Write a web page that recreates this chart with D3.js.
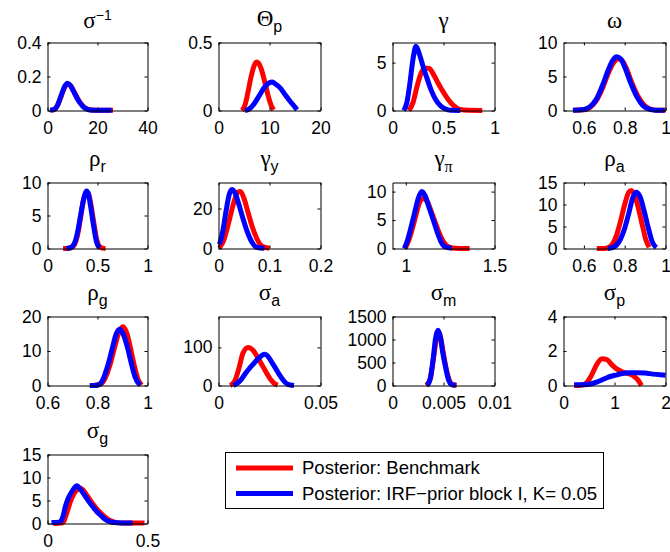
<!DOCTYPE html>
<html>
<head>
<meta charset="utf-8">
<script src="https://cdn.jsdelivr.net/npm/d3@7"></script>
<style>
body { margin: 0; background: #fff; }
svg { display: block; }
</style>
</head>
<body>
<script>
// panel titles (symbol, subscript, superscript)
var titleSym = ["σ", "Θ", "γ", "ω", "ρ", "γ", "γ", "ρ", "ρ", "σ", "σ", "σ", "σ"];
var titleSub = ["", "p", "", "", "r", "y", "π", "a", "g", "a", "m", "p", "g"];
var titleSup = ["−1", "", "", "", "", "", "", "", "", "", "", "", ""];

// axis limits and ticks
var xDomains = [[0, 40], [0, 20], [0, 1], [0.5, 1], [0, 1], [0, 0.2], [0.925, 1.5], [0.5, 1], [0.6, 1], [0, 0.05], [0, 0.01], [0, 2], [0, 0.5]];
var yDomains = [[0, 0.4], [0, 0.5], [0, 7.1], [0, 10], [0, 10], [0, 33], [0, 11.6], [0, 15], [0, 20], [0, 181], [0, 1500], [0, 4], [0, 15]];
var xTicks = [[0, 20, 40], [0, 10, 20], [0, 0.5, 1], [0.6, 0.8, 1], [0, 0.5, 1], [0, 0.1, 0.2], [1, 1.5], [0.6, 0.8, 1], [0.6, 0.8, 1], [0, 0.05], [0, 0.005, 0.01], [0, 1, 2], [0, 0.5]];
var yTicks = [[0, 0.2, 0.4], [0, 0.5], [0, 5], [0, 5, 10], [0, 5, 10], [0, 20], [0, 5, 10], [0, 5, 10, 15], [0, 10, 20], [0, 100], [0, 500, 1000, 1500], [0, 2, 4], [0, 5, 10, 15]];

// posterior densities: [x, density]
var sigmaInvRed = [[1.6,0.001],[3,0.008],[4,0.03],[5,0.065],[6,0.105],[7,0.14],[8,0.155],[9,0.15],[10,0.128],[11,0.1],[12,0.072],[13,0.048],[14,0.03],[15,0.016],[16,0.008],[18,0.003],[21,0.001],[26.2,0.001]];
var sigmaInvBlue = [[1,0.002],[2.5,0.006],[4,0.03],[5,0.07],[6,0.11],[7,0.145],[8,0.16],[9,0.15],[10,0.125],[11,0.095],[12,0.068],[13,0.045],[14,0.027],[15,0.014],[16,0.007],[18,0.002],[21,0.001],[25.6,0.001]];
var thetaPRed = [[4.6,0],[5.2,0.04],[5.8,0.14],[6.4,0.25],[7,0.33],[7.5,0.357],[8,0.34],[8.6,0.28],[9.2,0.19],[9.8,0.1],[10.3,0.04],[10.8,0.005]];
var thetaPBlue = [[5.2,0],[6,0.01],[7,0.05],[8,0.11],[9,0.17],[10,0.205],[10.5,0.209],[11,0.2],[12,0.17],[13,0.12],[14,0.07],[15,0.025],[15.4,0.005]];
var gammaRed = [[0.16,0],[0.2,0.8],[0.24,2.5],[0.28,3.9],[0.32,4.45],[0.36,4.4],[0.4,3.8],[0.45,2.8],[0.5,1.9],[0.55,1.1],[0.6,0.5],[0.66,0.1],[0.75,0.02],[0.88,0.01]];
var gammaBlue = [[0.11,0],[0.14,0.8],[0.17,2.8],[0.2,5.3],[0.23,6.7],[0.26,6.0],[0.3,4.6],[0.34,3.3],[0.38,2.1],[0.42,1.2],[0.47,0.5],[0.52,0.15],[0.57,0.03],[0.664,0.01]];
var omegaRed = [[0.55,0.05],[0.6,0.1],[0.63,0.45],[0.66,1.4],[0.69,3.2],[0.72,5.5],[0.745,7.0],[0.765,7.6],[0.785,7.4],[0.805,6.4],[0.835,4.1],[0.865,2.1],[0.895,0.8],[0.925,0.2],[0.96,0.05],[1.0,0.05]];
var omegaBlue = [[0.546,0.05],[0.6,0.15],[0.63,0.57],[0.66,1.6],[0.69,3.6],[0.72,6.0],[0.74,7.3],[0.76,7.9],[0.78,7.6],[0.8,6.4],[0.83,4.0],[0.86,2.0],[0.89,0.7],[0.92,0.2],[0.95,0.05],[0.995,0.05]];
var rhoRRed = [[0.156,0],[0.22,0.05],[0.27,0.6],[0.3,2.0],[0.33,4.6],[0.36,7.4],[0.39,8.5],[0.41,8.3],[0.43,7.0],[0.46,4.2],[0.49,1.5],[0.52,0.3],[0.55,0.05],[0.58,0]];
var rhoRBlue = [[0.19,0],[0.24,0.2],[0.28,1.2],[0.31,3.2],[0.34,5.8],[0.37,8.0],[0.39,8.7],[0.41,8.2],[0.43,6.5],[0.46,3.5],[0.49,1.0],[0.52,0.05]];
var gammaYRed = [[0.002,0.3],[0.01,4],[0.02,13],[0.03,23],[0.038,28.2],[0.043,28.5],[0.05,25],[0.058,18],[0.066,11],[0.075,5],[0.085,1.2],[0.1,0.1]];
var gammaYBlue = [[0.002,2],[0.008,8],[0.015,19],[0.021,27],[0.026,29.5],[0.032,28],[0.04,22],[0.048,15],[0.057,8],[0.066,3],[0.075,0.6],[0.09,0.1]];
var gammaPiRed = [[0.995,0],[1.015,1.3],[1.035,3.3],[1.055,5.6],[1.075,7.9],[1.098,8.8],[1.12,8.3],[1.14,6.8],[1.165,4.7],[1.19,2.6],[1.21,1.3],[1.23,0.5],[1.26,0.1],[1.3,0.02],[1.36,0.01]];
var gammaPiBlue = [[0.992,0],[1.01,1.5],[1.03,3.8],[1.05,6.3],[1.07,8.8],[1.09,10.0],[1.11,9.2],[1.13,7.3],[1.155,5.0],[1.18,2.6],[1.2,1.1],[1.22,0.3],[1.26,0.05]];
var rhoARed = [[0.663,0],[0.7,0],[0.72,0.2],[0.74,1.0],[0.76,3.0],[0.78,6.3],[0.8,10.0],[0.82,12.8],[0.832,13.2],[0.85,12.0],[0.87,8.6],[0.89,4.6],[0.905,1.8],[0.92,0.3]];
var rhoABlue = [[0.717,0],[0.74,0.2],[0.76,0.8],[0.78,2.2],[0.8,4.6],[0.82,8.0],[0.84,11.6],[0.856,12.8],[0.875,11.8],[0.895,8.6],[0.915,4.8],[0.935,1.5],[0.955,0.2]];
var rhoGRed = [[0.78,0],[0.81,0.3],[0.83,2.0],[0.85,6.0],[0.87,11.5],[0.888,15.8],[0.902,17.0],[0.918,15],[0.933,10.5],[0.948,5.5],[0.962,1.8],[0.976,0.1]];
var rhoGBlue = [[0.769,0],[0.8,0.1],[0.82,1.5],[0.84,5.5],[0.86,11],[0.875,15],[0.889,16.3],[0.905,14.5],[0.92,11],[0.935,6.5],[0.95,2.5],[0.97,0.1]];
var sigmaARed = [[0.0057,0],[0.008,12],[0.01,45],[0.012,85],[0.0145,100],[0.017,92],[0.019,75],[0.021,57],[0.023,38],[0.025,20],[0.027,7],[0.029,1]];
var sigmaABlue = [[0.0073,0],[0.009,5],[0.011,15],[0.013,30],[0.015,44],[0.017,56],[0.019,68],[0.0213,79],[0.0226,82],[0.024,78],[0.026,62],[0.028,45],[0.03,27],[0.032,12],[0.034,3],[0.037,0]];
var sigmaMRed = [[0.0033,0],[0.0037,140],[0.004,560],[0.0043,1000],[0.0045,1150],[0.0047,1050],[0.005,680],[0.0053,330],[0.0056,100],[0.0059,20],[0.0063,5]];
var sigmaMBlue = [[0.0034,0],[0.0037,150],[0.004,600],[0.0042,1000],[0.00446,1200],[0.0047,1050],[0.0049,750],[0.0052,400],[0.0055,120],[0.0058,20],[0.0062,5]];
var sigmaPRed = [[0.21,0],[0.35,0.02],[0.45,0.15],[0.55,0.6],[0.65,1.2],[0.75,1.55],[0.85,1.5],[0.95,1.2],[1.05,0.95],[1.15,0.8],[1.25,0.7],[1.35,0.6],[1.45,0.35],[1.53,0]];
var sigmaPBlue = [[0.21,0.05],[0.4,0.05],[0.55,0.1],[0.65,0.2],[0.75,0.32],[0.85,0.45],[0.95,0.55],[1.05,0.62],[1.15,0.7],[1.3,0.74],[1.45,0.74],[1.6,0.72],[1.75,0.66],[1.9,0.62],[2.0,0.6]];
var sigmaGRed = [[0.03,0],[0.07,0.1],[0.085,0.8],[0.1,2.8],[0.115,4.8],[0.13,6.3],[0.145,7.2],[0.16,7.7],[0.175,7.4],[0.19,6.6],[0.21,5.3],[0.23,4.1],[0.25,3.0],[0.27,2.1],[0.29,1.3],[0.31,0.7],[0.34,0.25],[0.38,0.1],[0.43,0.1],[0.485,0.1]];
var sigmaGBlue = [[0.02,0.2],[0.06,0.3],[0.075,1.2],[0.09,3.8],[0.105,5.6],[0.12,6.8],[0.135,7.8],[0.147,8.2],[0.16,7.7],[0.18,6.5],[0.2,5.2],[0.22,4.0],[0.24,2.9],[0.26,2.0],[0.28,1.2],[0.3,0.6],[0.33,0.2],[0.37,0.1],[0.425,0.1]];

var redSeries = [sigmaInvRed, thetaPRed, gammaRed, omegaRed, rhoRRed, gammaYRed, gammaPiRed, rhoARed, rhoGRed, sigmaARed, sigmaMRed, sigmaPRed, sigmaGRed];
var blueSeries = [sigmaInvBlue, thetaPBlue, gammaBlue, omegaBlue, rhoRBlue, gammaYBlue, gammaPiBlue, rhoABlue, rhoGBlue, sigmaABlue, sigmaMBlue, sigmaPBlue, sigmaGBlue];

var legendLabels = ["Posterior: Benchmark", "Posterior: IRF\u2212prior block I, K= 0.05"];
var seriesColors = ["#ff0000", "#0000ff"];

// layout of the 4x4 grid
var colLeft = [47.5, 218.5, 392.5, 563.5];
var colRight = [147.5, 320.5, 494.5, 665.5];
var rowTop = [42.5, 182.5, 316.5, 454.5];
var rowBottom = [110.5, 248.5, 385.5, 523.5];

var svg = d3.select("body").append("svg").attr("width", 670).attr("height", 552);
svg.append("rect").attr("width", 670).attr("height", 552).attr("fill", "#fff");

var fmt = d3.format("~g");
var labelFont = "'Liberation Sans', Arial, Helvetica, sans-serif";
var greekFont = "'Liberation Serif', 'Times New Roman', serif";

titleSym.forEach(function(sym, i) {
    var col = i % 4, row = Math.floor(i / 4);
    var l = colLeft[col], r = colRight[col], t = rowTop[row], b = rowBottom[row];
    var x = d3.scaleLinear().domain(xDomains[i]).range([l, r]);
    var y = d3.scaleLinear().domain(yDomains[i]).range([b, t]);
    var g = svg.append("g");

    var line = d3.line()
        .x(function(d) { return x(d[0]); })
        .y(function(d) { return y(d[1]); })
        .curve(d3.curveMonotoneX);

    [redSeries[i], blueSeries[i]].forEach(function(s, k) {
        g.append("path")
            .attr("d", line(s))
            .attr("fill", "none")
            .attr("stroke", seriesColors[k])
            .attr("stroke-width", 5)
            .attr("stroke-linejoin", "round");
    });

    // box + inward ticks on all sides
    g.append("g").attr("transform", "translate(0," + b + ")")
        .call(d3.axisBottom(x).tickValues(xTicks[i]).tickFormat(fmt).tickSizeInner(-3).tickSizeOuter(0).tickPadding(11));
    g.append("g").attr("transform", "translate(0," + t + ")")
        .call(d3.axisTop(x).tickValues(xTicks[i]).tickFormat("").tickSizeInner(-3).tickSizeOuter(0));
    g.append("g").attr("transform", "translate(" + l + ",0)")
        .call(d3.axisLeft(y).tickValues(yTicks[i]).tickFormat(fmt).tickSizeInner(-3).tickSizeOuter(0).tickPadding(6));
    g.append("g").attr("transform", "translate(" + r + ",0)")
        .call(d3.axisRight(y).tickValues(yTicks[i]).tickFormat("").tickSizeInner(-3).tickSizeOuter(0));

    g.selectAll(".domain, .tick line").attr("stroke", "#000").attr("stroke-width", 1);
    g.selectAll(".tick text").attr("font-family", labelFont).attr("font-size", 17.5).attr("fill", "#000");

    // title
    var title = g.append("text")
        .attr("x", (l + r) / 2)
        .attr("y", t - (titleSub[i] ? 17 : 15))
        .attr("text-anchor", "middle")
        .attr("fill", "#000");
    title.append("tspan")
        .attr("font-family", greekFont)
        .attr("font-size", 23)
        .text(sym);
    if (titleSup[i]) {
        title.append("tspan").attr("dy", -8)
            .attr("font-family", labelFont).attr("font-size", 14)
            .text(titleSup[i]);
    }
    if (titleSub[i]) {
        title.append("tspan").attr("dy", 6)
            .attr("font-family", titleSub[i] === "π" ? greekFont : labelFont)
            .attr("font-size", 16)
            .text(titleSub[i]);
    }
});

// legend
var leg = svg.append("g");
leg.append("rect")
    .attr("x", 225.5).attr("y", 452.5).attr("width", 378).attr("height", 56)
    .attr("fill", "#fff").attr("stroke", "#000").attr("stroke-width", 1);
legendLabels.forEach(function(label, k) {
    var ly = 468 + k * 25.5;
    leg.append("line")
        .attr("x1", 236).attr("x2", 293).attr("y1", ly).attr("y2", ly)
        .attr("stroke", seriesColors[k]).attr("stroke-width", 5);
    leg.append("text")
        .attr("x", 302).attr("y", ly)
        .attr("dy", "0.35em")
        .attr("font-family", labelFont).attr("font-size", 18.5)
        .attr("fill", "#000")
        .text(label);
});
</script>
</body>
</html>
